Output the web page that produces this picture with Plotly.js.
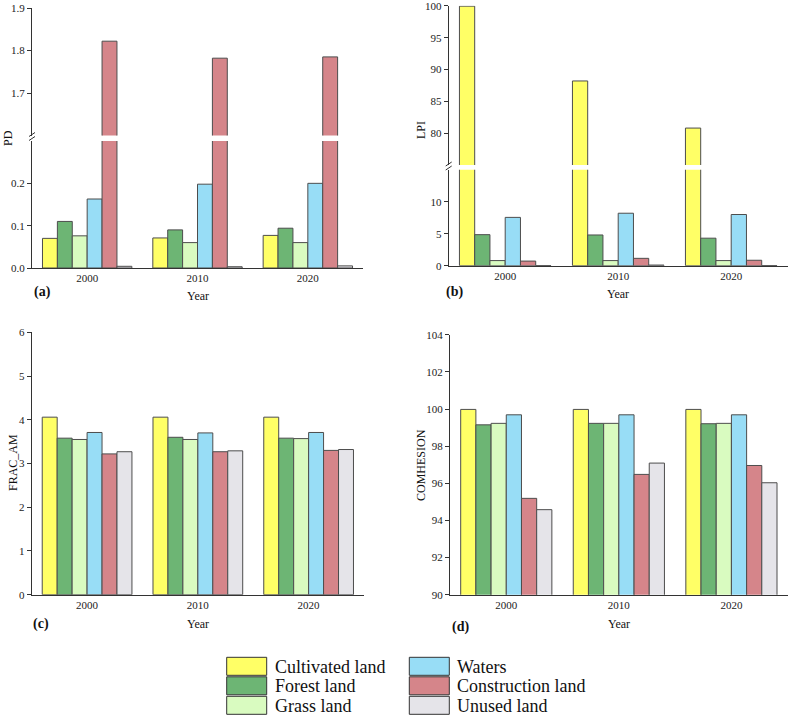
<!DOCTYPE html>
<html>
<head>
<meta charset="utf-8">
<script src="https://cdn.plot.ly/plotly-3.0.1.min.js"></script>
<style>html,body{margin:0;padding:0;background:#fff;}#chart{width:789px;height:723px;}</style>
</head>
<body>
<div id="chart"></div>
<script>
// ---- data ----
const years = ['2000', '2010', '2020'];
const classes = ['Cultivated land', 'Forest land', 'Grass land', 'Waters', 'Construction land', 'Unused land'];
// values per class, in order of years
const PD = [
  [0.070, 0.071, 0.077],
  [0.110, 0.090, 0.094],
  [0.076, 0.060, 0.060],
  [0.163, 0.198, 0.200],
  [1.822, 1.782, 1.785],
  [0.004, 0.003, 0.005]
];
const LPI = [
  [99.95, 88.2, 80.8],
  [4.85, 4.8, 4.3],
  [0.8, 0.8, 0.8],
  [7.55, 8.2, 8.0],
  [0.72, 1.15, 0.85],
  [0.03, 0.1, 0.03]
];
const FRAC_AM = [
  [4.06, 4.06, 4.06],
  [3.58, 3.60, 3.58],
  [3.55, 3.55, 3.57],
  [3.71, 3.70, 3.71],
  [3.22, 3.27, 3.30],
  [3.27, 3.29, 3.32]
];
const COHESION = [
  [99.98, 99.98, 99.98],
  [99.15, 99.23, 99.21],
  [99.23, 99.23, 99.23],
  [99.69, 99.69, 99.69],
  [95.19, 96.48, 96.96],
  [94.58, 97.09, 96.03]
];
const pdLowerTicks = [0, 0.1, 0.2];
const pdUpperTicks = [1.7, 1.8, 1.9];
const lpiLowerTicks = [0, 5, 10];
const lpiUpperTicks = [80, 85, 90, 95, 100];

// ---- style ----
const colors = ['#FFFF66', '#6DB574', '#D9FBC0', '#98DDF6', '#D5858A', '#E5E4E9'];
const W = 789, H = 723;
const FONT = '"Liberation Serif", "Times New Roman", serif';
const px = x => x / W;
const py = y => 1 - y / H;

const traces = [];
function addPanel(values, xa, ya) {
  values.forEach((v, i) => {
    traces.push({
      type: 'bar', x: years, y: v, name: classes[i], xaxis: xa, yaxis: ya,
      marker: {color: colors[i], line: {color: '#4d4d4d', width: 1}},
      showlegend: false, hoverinfo: 'x+y+name'
    });
  });
}
addPanel(PD, 'x', 'y');
addPanel(PD, 'x', 'y2');
addPanel(LPI, 'x2', 'y3');
addPanel(LPI, 'x2', 'y4');
addPanel(FRAC_AM, 'x3', 'y5');
addPanel(COHESION, 'x4', 'y6');

const tickFont = {family: FONT, size: 11, color: '#222'};
function xax(d0, d1, anchor) {
  return {domain: [px(d0), px(d1)], anchor: anchor, type: 'category', range: [-0.5, 2.5],
    showline: true, linecolor: '#333', linewidth: 1, ticks: '', tickfont: tickFont,
    showgrid: false, zeroline: false, fixedrange: true};
}
function yax(top, bottom, range, anchor, extra) {
  return Object.assign({domain: [py(bottom), py(top)], anchor: anchor, range: range,
    showline: true, linecolor: '#333', linewidth: 1, ticks: 'outside', ticklen: 4, tickcolor: '#333',
    tickfont: tickFont, ticklabeloverflow: 'allow', showgrid: false, zeroline: false, fixedrange: true}, extra || {});
}

const annotations = [];
function ann(text, x, y, opts) {
  annotations.push(Object.assign({text: text, x: px(x), y: py(y), xref: 'paper', yref: 'paper',
    showarrow: false, xanchor: 'center', yanchor: 'middle', font: {family: FONT, size: 12, color: '#111'}}, opts || {}));
}
// axis titles
ann('PD', 8, 138, {textangle: -90});
ann('LPI', 421, 130, {textangle: -90});
ann('FRAC_AM', 13, 463, {textangle: -90});
ann('COMHESION', 421, 465, {textangle: -90});
ann('Year', 198, 296);
ann('Year', 618, 294);
ann('Year', 198, 624);
ann('Year', 619, 624);
// panel labels
const bold = {font: {family: FONT, size: 14, color: '#111', weight: 'bold'}, xanchor: 'left'};
ann('<b>(a)</b>', 32, 292, bold);
ann('<b>(b)</b>', 444, 292, bold);
ann('<b>(c)</b>', 31, 624, bold);
ann('<b>(d)</b>', 450, 627, bold);

const shapes = [];
// break marks
function brk(x, y) {
  shapes.push({type: 'line', xref: 'paper', yref: 'paper', x0: px(x - 3), y0: py(y + 1), x1: px(x + 3), y1: py(y - 3), line: {color: '#333', width: 1}});
  shapes.push({type: 'line', xref: 'paper', yref: 'paper', x0: px(x - 3), y0: py(y + 5), x1: px(x + 3), y1: py(y + 1), line: {color: '#333', width: 1}});
}
brk(32, 135.5);
brk(448.7, 165);

// legend (drawn manually)
const legCols = [[226.7, 273], [409.3, 455]];
const rowTops = [657.3, 676.8, 696.3];
classes.forEach((c, i) => {
  const col = legCols[Math.floor(i / 3)];
  const r = i % 3;
  shapes.push({type: 'rect', xref: 'paper', yref: 'paper', x0: px(col[0]), x1: px(col[0] + 40),
    y0: py(rowTops[r] + 18), y1: py(rowTops[r]), fillcolor: colors[i], line: {color: '#333', width: 1}});
  ann(c, col[1], rowTops[r] + 9.5, {xanchor: 'left', font: {family: FONT, size: 18, color: '#111'}});
});

const layout = {
  width: W, height: H, margin: {l: 0, r: 0, t: 0, b: 0},
  paper_bgcolor: '#fff', plot_bgcolor: 'rgba(0,0,0,0)',
  barmode: 'group', bargap: 0.19, bargroupgap: 0,
  showlegend: false,
  font: {family: FONT, color: '#222'},
  xaxis: xax(32, 363, 'y'),
  yaxis: yax(141, 268, [0, 0.3], 'x', {tickvals: pdLowerTicks, tickformat: '.1f'}),
  yaxis2: yax(8, 135.5, [1.6, 1.9001], 'x', {tickvals: pdUpperTicks, tickformat: '.1f'}),
  xaxis2: xax(448.7, 787.7, 'y3'),
  yaxis3: yax(169.7, 265.7, [0, 15], 'x2', {tickvals: lpiLowerTicks}),
  yaxis4: yax(5.7, 165, [75, 100.02], 'x2', {tickvals: lpiUpperTicks}),
  xaxis3: xax(31.7, 364, 'y5'),
  yaxis5: yax(332.3, 594.7, [0, 6.001], 'x3', {dtick: 1}),
  xaxis4: xax(450, 787.7, 'y6'),
  yaxis6: yax(334.7, 594.7, [90, 104.005], 'x4', {dtick: 2}),
  annotations: annotations,
  shapes: shapes
};
Plotly.newPlot('chart', traces, layout, {staticPlot: true, displayModeBar: false});
</script>
</body>
</html>
